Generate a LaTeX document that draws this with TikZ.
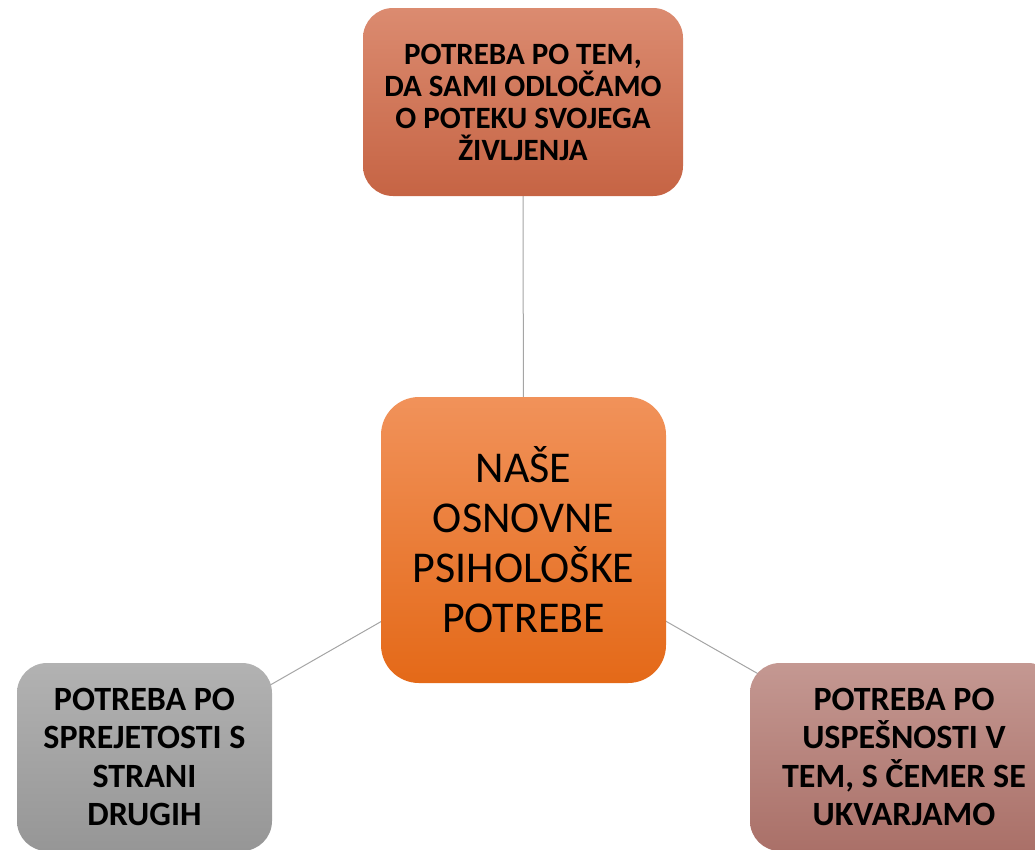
\documentclass[tikz,border=0pt]{standalone}
\usepackage{fontspec}
\setmainfont{Carlito}
\usetikzlibrary{backgrounds}
\definecolor{topA}{RGB}{219,139,112}
\definecolor{topB}{RGB}{198,100,68}
\definecolor{cenA}{RGB}{241,146,90}
\definecolor{cenB}{RGB}{228,105,24}
\definecolor{grayA}{RGB}{178,178,178}
\definecolor{grayB}{RGB}{150,150,150}
\definecolor{rosA}{RGB}{196,152,146}
\definecolor{rosB}{RGB}{170,112,104}
\definecolor{linkgray}{RGB}{165,165,165}
\tikzset{
  smallbox/.style={rounded corners=30pt, minimum height=188pt, inner sep=0pt, align=center,
    font=\fontsize{31}{32}\selectfont\bfseries},
  bigbox/.style={rounded corners=38pt, minimum width=285pt, minimum height=286pt, inner sep=0pt,
    align=center, font=\fontsize{44}{50}\selectfont, top color=cenA, bottom color=cenB},
  lowbox/.style={smallbox, font=\fontsize{34}{38.5}\selectfont\bfseries},
  link/.style={draw=linkgray, line width=1pt}
}
\begin{document}
\begin{tikzpicture}[x=1pt,y=-1pt]
\useasboundingbox (0,0) rectangle (1035,849);
\node[bigbox] (c) at (523.5,540) {NAŠE\\OSNOVNE\\PSIHOLOŠKE\\POTREBE};
\node[smallbox, minimum width=320pt, top color=topA, bottom color=topB] (t) at (523,102)
  {POTREBA PO TEM,\\DA SAMI ODLOČAMO\\O POTEKU SVOJEGA\\ŽIVLJENJA};
\node[lowbox, minimum width=255pt, top color=grayA, bottom color=grayB] (l) at (144.5,757)
  {POTREBA PO\\SPREJETOSTI S\\STRANI\\DRUGIH};
\node[lowbox, minimum width=308pt, top color=rosA, bottom color=rosB] (r) at (904,757)
  {POTREBA PO\\USPEŠNOSTI V\\TEM, S ČEMER SE\\UKVARJAMO};
\begin{scope}[on background layer]
\draw[link] (c.center) -- (t.center);
\draw[link] (c.center) -- (l.center);
\draw[link] (c.center) -- (r.center);
\end{scope}
\end{tikzpicture}
\end{document}
